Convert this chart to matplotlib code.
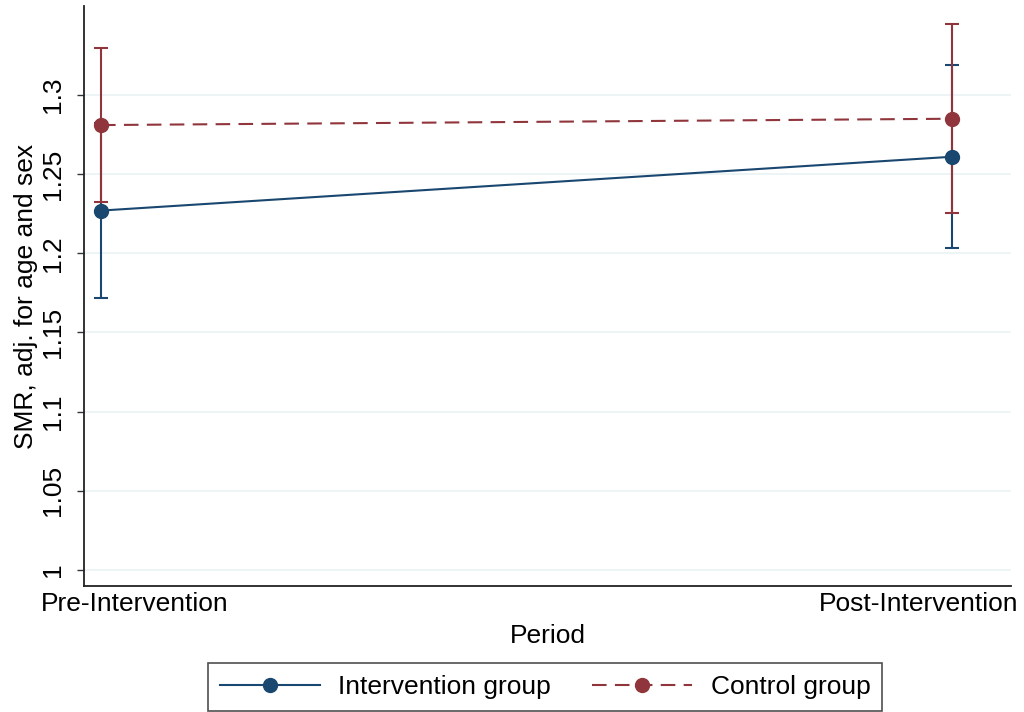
import numpy as np
import matplotlib
matplotlib.use("Agg")
import matplotlib.pyplot as plt
import matplotlib.transforms as mtransforms

plt.rcParams['font.family'] = ['Liberation Sans', 'DejaVu Sans']

periods = ['Pre-Intervention', 'Post-Intervention']
x = np.array([0, 1])

# SMR estimates with 95% CI
interv_mean = [1.227, 1.261]
interv_lo = [1.1715, 1.2036]
interv_hi = [1.2825, 1.319]

control_mean = [1.281, 1.285]
control_lo = [1.2325, 1.2255]
control_hi = [1.3296, 1.345]

yticks = [1, 1.05, 1.1, 1.15, 1.2, 1.25, 1.3]
ytick_labels = ['1', '1.05', '1.1', '1.15', '1.2', '1.25', '1.3']

blue = '#1a476f'
red = '#90353b'
grid_col = '#eaf2f3'

fig = plt.figure(figsize=(10.24, 7.12), dpi=100)
ax = fig.add_axes([84 / 1024, (712 - 586) / 712, 927 / 1024, 580 / 712])

ax.errorbar(x, interv_mean,
            yerr=[np.subtract(interv_mean, interv_lo), np.subtract(interv_hi, interv_mean)],
            fmt='none', ecolor=blue, elinewidth=1.5, capsize=5, capthick=1.5, zorder=3)
ax.errorbar(x, control_mean,
            yerr=[np.subtract(control_mean, control_lo), np.subtract(control_hi, control_mean)],
            fmt='none', ecolor=red, elinewidth=1.5, capsize=5, capthick=1.5, zorder=4)

ax.plot(x, interv_mean, color=blue, lw=1.5, marker='o', ms=10, zorder=5,
        label='Intervention group')
ax.plot(x, control_mean, color=red, lw=1.5, ls=(0, (7, 4)), marker='o', ms=10, zorder=5,
        label='Control group')

ax.set_xlim(-0.02, 1.069)
ax.set_ylim(0.9899, 1.3562)
ax.set_yticks(yticks)
ax.set_yticklabels(ytick_labels, rotation=90, va='center', fontsize=19)
ax.tick_params(axis='y', length=5, width=1, pad=8.5, color='#333333')
ax.yaxis.grid(True, color=grid_col, lw=1.2)
ax.set_axisbelow(True)

ax.set_xticks(x)
ax.set_xticklabels(periods, fontsize=19)
ax.tick_params(axis='x', length=0, pad=4)
shifts = [34, -34]
for lab, s in zip(ax.get_xticklabels(), shifts):
    off = mtransforms.ScaledTranslation(s / 100, 0, fig.dpi_scale_trans)
    lab.set_transform(lab.get_transform() + off)

ax.set_xlabel('Period', fontsize=19, labelpad=6)
ax.set_ylabel('SMR, adj. for age and sex', fontsize=19, labelpad=2)

for side in ['top', 'right']:
    ax.spines[side].set_visible(False)
for side in ['left', 'bottom']:
    ax.spines[side].set_color('#222222')
    ax.spines[side].set_linewidth(1.3)

leg = fig.legend(loc='lower center', bbox_to_anchor=(545 / 1024, 1 / 712), ncol=2,
                 fontsize=19, handlelength=3.8, columnspacing=1.55, handletextpad=0.7,
                 frameon=True, fancybox=False, borderpad=0.45, borderaxespad=0)
leg.get_frame().set_edgecolor('#222222')
leg.get_frame().set_linewidth(1.2)

fig.savefig('out.png', dpi=100)
